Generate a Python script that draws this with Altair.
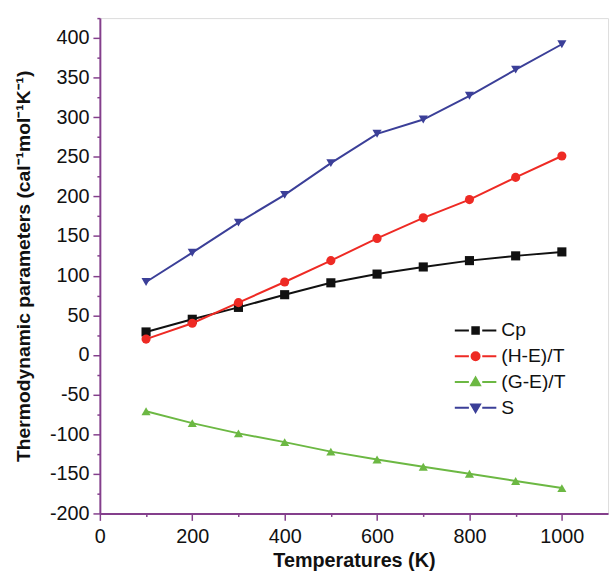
import altair as alt
import pandas as pd

temps = [100, 200, 300, 400, 500, 600, 700, 800, 900, 1000]
cp = [29, 45, 60, 76, 91, 102, 111, 119, 125, 130]
he = [20, 40, 66, 92, 119, 147, 173, 196, 224, 251]
ge = [-71, -86, -99, -110, -122, -132, -141, -150, -159, -168]
s_vals = [92, 129, 167, 202, 242, 279, 297, 327, 360, 392]

names = ["Cp", "(H-E)/T", "(G-E)/T", "S"]
colors = ["#111111", "#ee2a24", "#6cb843", "#3b3f98"]
shapes = ["square", "circle", "triangle-up", "triangle-down"]
legend_paths = [
    "M-1.4,0H-0.45M0.45,0H1.4M-0.22,-0.22H0.22V0.22H-0.22Z",
    "M-1.4,0H-0.45M0.45,0H1.4M-0.27,0A0.27,0.27 0 1,0 0.27,0A0.27,0.27 0 1,0 -0.27,0Z",
    "M-1.4,0H-0.45M0.45,0H1.4M0,-0.3L0.3,0.22L-0.3,0.22Z",
    "M-1.4,0H-0.45M0.45,0H1.4M0,0.3L0.3,-0.22L-0.3,-0.22Z",
]

rows = []
for name, vals in zip(names, [cp, he, ge, s_vals]):
    for t, v in zip(temps, vals):
        rows.append({"T": t, "val": v, "series": name})
df = pd.DataFrame(rows)

purple = "#843f8c"
xdom = [0, 1100]
ydom = [-200, 425]

xs = alt.Scale(domain=xdom, nice=False, zero=False)
ys = alt.Scale(domain=ydom, nice=False, zero=False)

xaxis = alt.Axis(values=[0, 200, 400, 600, 800, 1000], title="Temperatures (K)",
                 orient="bottom", labelExpr="datum.value + ''",
                 grid=False, domainColor=purple, domainWidth=2, tickColor=purple,
                 tickWidth=1.5, tickSize=7, labelFontSize=20, labelColor="#111",
                 labelPadding=6, titleFontSize=20, titleFontWeight="bold",
                 titlePadding=5, labelFlush=False, titleColor="#111")
yaxis = alt.Axis(values=list(range(-200, 401, 50)),
                 title="Thermodynamic parameters (cal⁻¹mol⁻¹K⁻¹)",
                 orient="left", labelExpr="datum.value + ''",
                 grid=False, domainColor=purple, domainWidth=2, tickColor=purple,
                 tickWidth=1.5, tickSize=7, labelFontSize=20, labelColor="#111",
                 labelPadding=4, titleFontSize=19.5, titleFontWeight="bold",
                 titlePadding=16, labelFlush=False, titleColor="#111")

base = alt.Chart(df)

series_layers = []
for i, (name, shp, col) in enumerate(zip(names, shapes, colors)):
    sub = base.transform_filter(alt.datum.series == name)
    if i == 0:
        xenc = alt.X("T:Q", scale=xs, axis=xaxis)
        yenc = alt.Y("val:Q", scale=ys, axis=yaxis)
    else:
        xenc = alt.X("T:Q", scale=xs)
        yenc = alt.Y("val:Q", scale=ys)
    series_layers.append(
        sub.mark_line(strokeWidth=2, color=col).encode(x=xenc, y=yenc)
    )
    series_layers.append(
        sub.mark_point(filled=True, shape=shp, size=85, opacity=1, color=col)
        .encode(x=alt.X("T:Q", scale=xs), y=alt.Y("val:Q", scale=ys))
    )

main = alt.layer(*series_layers)

leg = dict(title=None, orient="none", legendX=364, legendY=300,
           symbolSize=900, symbolOpacity=1, symbolStrokeWidth=2,
           labelFontSize=19.5, labelColor="#111", labelOffset=10, rowPadding=0,
           labelFont="Liberation Sans")
legend_layer = base.mark_point(filled=True, opacity=0).encode(
    x=alt.X("T:Q", scale=xs, axis=None),
    y=alt.Y("val:Q", scale=ys, axis=None),
    fill=alt.Fill("series:N", scale=alt.Scale(domain=names, range=colors),
                  legend=alt.Legend(**leg)),
    stroke=alt.Stroke("series:N", scale=alt.Scale(domain=names, range=colors),
                      legend=alt.Legend(**leg)),
    shape=alt.Shape("series:N", scale=alt.Scale(domain=names, range=legend_paths),
                    legend=alt.Legend(**leg)),
)

minor = alt.Chart(df).mark_point(opacity=0).encode(
    x=alt.X("T:Q", scale=xs, axis=alt.Axis(values=[100, 300, 500, 700, 900],
            orient="bottom", labels=False, domain=False, grid=False, title=None,
            tickColor=purple, tickWidth=1.5, tickSize=3)),
    y=alt.Y("val:Q", scale=ys, axis=alt.Axis(values=list(range(-175, 426, 50)),
            orient="left", labels=False, domain=False, grid=False, title=None,
            tickColor=purple, tickWidth=1.5, tickSize=3)),
)

chart = alt.layer(main, minor, legend_layer).resolve_scale(
    x="independent", y="independent"
).properties(
    width=514, height=501,
    padding={"left": 13, "top": 14, "right": 5, "bottom": 5},
    background="white",
).configure_view(stroke=purple, strokeWidth=2).configure(
    font="Liberation Sans"
)

chart.save("out.html", embed_options={"renderer": "svg", "actions": False})
